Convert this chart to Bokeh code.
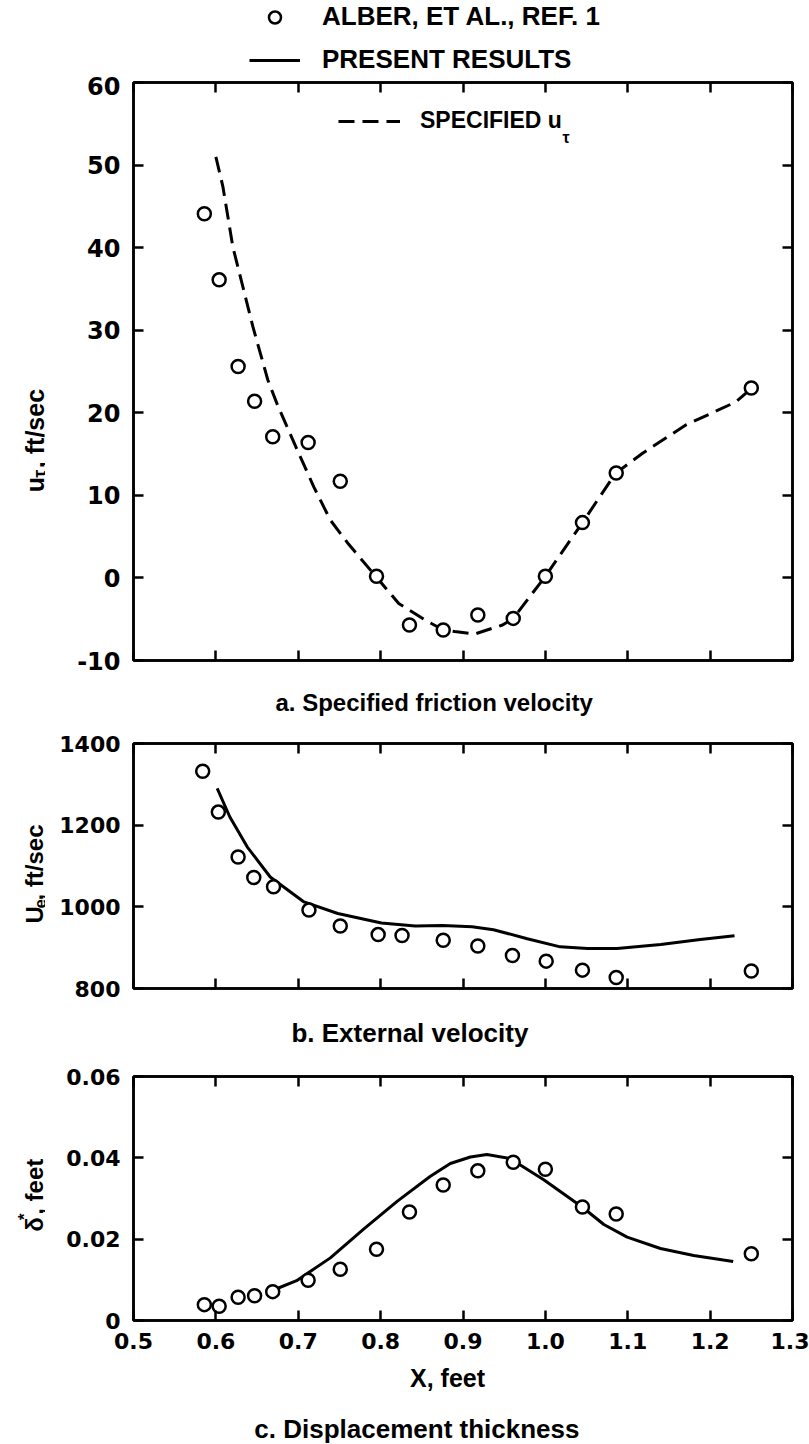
import math
import numpy as np
from bokeh.plotting import figure
from bokeh.models import Range1d, LinearAxis, FixedTicker, Label, Legend, LegendItem
from bokeh.layouts import column, row
from bokeh.embed import file_html
from bokeh.resources import INLINE

# ---------------- data ----------------
x_ticks = [0.5, 0.6, 0.7, 0.8, 0.9, 1.0, 1.1, 1.2, 1.3]
x_tick_labels = ["0.5", "0.6", "0.7", "0.8", "0.9", "1.0", "1.1", "1.2", "1.3"]
utau_ticks = [-10, 0, 10, 20, 30, 40, 50, 60]
utau_tick_labels = ["-10", "0", "10", "20", "30", "40", "50", "60"]
ue_ticks = [800, 1000, 1200, 1400]
ue_tick_labels = ["800", "1000", "1200", "1400"]
delta_ticks = [0, 0.02, 0.04, 0.06]
delta_tick_labels = ["0", "0.02", "0.04", "0.06"]

# Alber et al. (circles)
x_alber = [0.586, 0.604, 0.627, 0.647, 0.669, 0.712, 0.751, 0.795, 0.835, 0.876,
           0.918, 0.961, 1.000, 1.045, 1.086, 1.250]
x_alber_ue = [0.584, 0.603, 0.627, 0.646, 0.670, 0.713, 0.751, 0.797, 0.826, 0.876,
              0.918, 0.960, 1.001, 1.045, 1.086, 1.250]
utau_alber = [44.1, 36.1, 25.6, 21.4, 17.1, 16.4, 11.7, 0.2, -5.7, -6.3,
              -4.5, -4.9, 0.2, 6.7, 12.7, 23.0]
ue_alber = [1332, 1232, 1122, 1072, 1049, 992, 953, 932, 930, 918,
            904, 881, 867, 845, 827, 843]
delta_alber = [0.0039, 0.0035, 0.0057, 0.0061, 0.0071, 0.0099, 0.0126, 0.0175, 0.0267, 0.0333,
               0.0368, 0.0389, 0.0372, 0.0279, 0.0262, 0.0164]

# specified u_tau (dashed)
x_spec = [0.600, 0.6085, 0.6206, 0.645, 0.663, 0.675, 0.697, 0.719, 0.739, 0.761, 0.794,
          0.822, 0.854, 0.876, 0.890, 0.914, 0.948, 0.961, 1.000, 1.045, 1.085, 1.118,
          1.170, 1.231, 1.245]
utau_spec = [51.0, 47.4, 40.1, 30.4, 24.0, 20.9, 15.9, 11.0, 7.0, 4.1, 0.2,
             -3.1, -5.1, -6.3, -6.5, -6.8, -5.7, -4.9, 0.2, 6.7, 12.65, 15.1,
             18.5, 21.3, 22.5]

# present results (solid)
x_ue_present = [0.6016, 0.617, 0.638, 0.666, 0.707, 0.748, 0.801, 0.842, 0.875, 0.911,
                0.937, 0.978, 1.018, 1.051, 1.087, 1.140, 1.188, 1.2296]
ue_present = [1290, 1220, 1147, 1073, 1012, 983.6, 960.6, 953, 954, 951,
              944, 922, 902, 898, 898, 908, 920, 929]
x_delta_present = [0.670, 0.698, 0.739, 0.779, 0.820, 0.860, 0.8846, 0.909, 0.929, 0.9575,
                   0.998, 1.0446, 1.071, 1.0993, 1.1397, 1.180, 1.228]
delta_present = [0.0075, 0.0098, 0.0154, 0.0224, 0.0293, 0.0354, 0.0386, 0.0402, 0.0408, 0.0398,
                 0.0346, 0.0279, 0.0236, 0.0205, 0.0177, 0.0160, 0.0145]

# ---------------- style ----------------
SANS = "Liberation Sans"
TICKF = "DejaVu Sans"
W = 809
YLW = 45            # width of the strip holding the rotated y labels
PW = W - YLW        # width of each panel figure
BL, BR = 88, 17     # panel borders (frame spans x = 133 .. 792 on the page)

CHW = {'u': .611, 'U': .722, 'e': .556, ',': .278, ' ': .278, 'f': .333, 't': .333,
       '/': .278, 's': .556, 'c': .556, 'τ': .55, 'δ': .611, '*': .389}


def twidth(s, size):
    return sum(CHW.get(ch, .556) for ch in s) * size


def text_fig(w, h):
    p = figure(width=w, height=h, x_range=Range1d(0, w), y_range=Range1d(0, h),
               x_axis_location=None, y_axis_location=None, toolbar_location=None,
               output_backend="svg", min_border=0)
    p.xgrid.visible = False
    p.ygrid.visible = False
    p.outline_line_color = None
    p.background_fill_color = "white"
    p.border_fill_color = "white"
    return p


def make_fig(height, top, bottom, yr):
    p = figure(width=PW, height=height, x_range=Range1d(0.5, 1.3), y_range=Range1d(*yr),
               x_axis_location=None, y_axis_location=None, toolbar_location=None,
               output_backend="svg", min_border_left=BL, min_border_right=BR,
               min_border_top=top, min_border_bottom=bottom)
    p.xgrid.visible = False
    p.ygrid.visible = False
    p.outline_line_color = "black"
    p.outline_line_width = 2.5
    p.background_fill_color = "white"
    p.border_fill_color = "white"
    return p


def style_axis(ax):
    ax.axis_line_width = 2.5
    ax.axis_line_color = "black"
    ax.major_tick_in = 10
    ax.major_tick_out = 0
    ax.major_tick_line_width = 2.5
    ax.major_tick_line_color = "black"
    ax.minor_tick_line_color = None
    ax.major_label_text_font = TICKF
    ax.major_label_text_font_style = "bold"
    ax.major_label_text_color = "black"


def blank_axis(ticks):
    ax = LinearAxis(ticker=FixedTicker(ticks=ticks), major_label_overrides={t: "" for t in ticks})
    style_axis(ax)
    ax.major_label_text_font_size = "0px"
    ax.major_label_standoff = 0
    return ax


def add_axes(p, yt, yl, ysize, show_x):
    left = LinearAxis(ticker=FixedTicker(ticks=yt), major_label_overrides=dict(zip(yt, yl)))
    style_axis(left)
    left.major_label_text_font_size = ysize
    left.major_label_standoff = 13
    p.add_layout(left, "left")
    p.add_layout(blank_axis(yt), "right")
    p.add_layout(blank_axis(x_ticks), "above")
    if show_x:
        bot = LinearAxis(ticker=FixedTicker(ticks=x_ticks),
                         major_label_overrides=dict(zip(x_ticks, x_tick_labels)))
        style_axis(bot)
        bot.major_label_text_font_size = "22px"
        bot.major_label_standoff = 12
        p.add_layout(bot, "below")
    else:
        p.add_layout(blank_axis(x_ticks), "below")


def caption(tf, text, cx, cy_top, h, size="25px"):
    tf.add_layout(Label(x=cx, y=h - cy_top, text=text, text_align="center",
                        text_baseline="middle", text_font=SANS, text_font_size=size,
                        text_font_style="bold", text_color="black"))


def ylabel_fig(h, pieces, center_top, base_x=34):
    tf = text_fig(YLW, h)
    total = sum(twidth(t, s) for t, s, d in pieces)
    y = (h - center_top) - total / 2.0
    for t, s, d in pieces:
        tf.add_layout(Label(x=base_x + d, y=y, text=t, angle=math.pi / 2, angle_units="rad",
                            text_align="left", text_baseline="alphabetic", text_font=SANS,
                            text_font_size="%dpx" % s, text_font_style="bold",
                            text_color="black"))
        y += twidth(t, s)
    return tf


def circles(p, x, y):
    return p.scatter(x, y, marker="circle", size=13, fill_color="white", line_color="black",
                     line_width=2.5)


# ---------------- top legend strip (page y 0..76) ----------------
HL = 76
figL = text_fig(W, HL)
nan_key = np.array([np.nan])        # legend keys only: nothing is drawn in the strip
key_c = circles(figL, nan_key, nan_key)
key_l = figL.line(nan_key, nan_key, line_color="black", line_width=3)
top_legend = Legend(items=[LegendItem(label="ALBER, ET AL., REF. 1", renderers=[key_c]),
                           LegendItem(label="PRESENT RESULTS", renderers=[key_l])],
                    location=(249, 1), orientation="vertical", glyph_width=51, glyph_height=30,
                    label_height=30, label_standoff=22, spacing=12, padding=0, margin=0,
                    border_line_color=None, background_fill_alpha=0,
                    label_text_font=SANS, label_text_font_size="26px",
                    label_text_font_style="bold", label_text_color="black")
figL.add_layout(top_legend)

# ---------------- panel a (page y 76..680) ----------------
HA = 604
pa = make_fig(HA, 6, 20, (-10, 60))
add_axes(pa, utau_ticks, utau_tick_labels, "24px", False)
r_spec = pa.line(x_spec, utau_spec, line_color="black", line_width=3, line_dash="16 8")
circles(pa, x_alber, utau_alber)
spec_legend = Legend(items=[LegendItem(label="SPECIFIED u", renderers=[r_spec])],
                     location=(205, 526), orientation="vertical", glyph_width=62, glyph_height=20,
                     label_height=20, label_standoff=20, spacing=0, padding=0, margin=0,
                     border_line_color=None, background_fill_alpha=0,
                     label_text_font=SANS, label_text_font_size="23px",
                     label_text_font_style="bold", label_text_color="black")
pa.add_layout(spec_legend)
pa.add_layout(Label(x=429, y=523, x_units="screen", y_units="screen", text="τ",
                    text_font=SANS, text_font_size="16px", text_font_style="bold",
                    text_baseline="alphabetic", text_color="black"))
yla = ylabel_fig(HA, [("u", 25, 0), ("τ", 18, 5), (", ft/sec", 25, 0)], 452 - 76)

# ---------------- caption a (page y 680..723) ----------------
HCA = 43
figCA = text_fig(W, HCA)
caption(figCA, "a.  Specified friction velocity", 437, 702 - 680, HCA, "24px")

# ---------------- panel b (page y 723..1008) ----------------
HB = 285
pb = make_fig(HB, 20, 20, (800, 1400))
add_axes(pb, ue_ticks, ue_tick_labels, "22px", False)
pb.line(x_ue_present, ue_present, line_color="black", line_width=3)
circles(pb, x_alber_ue, ue_alber)
ylb = ylabel_fig(HB, [("U", 24, 0), ("e", 17, 5), (", ft/sec", 24, 0)], 881 - 723)

# ---------------- caption b (page y 1008..1056) ----------------
HCB = 48
figCB = text_fig(W, HCB)
caption(figCB, "b.  External velocity", 413, 1032 - 1008, HCB, "26px")

# ---------------- panel c (page y 1056..1362) ----------------
HC = 306
pc = make_fig(HC, 20, 42, (0, 0.06))
add_axes(pc, delta_ticks, delta_tick_labels, "22px", True)
pc.line(x_delta_present, delta_present, line_color="black", line_width=3)
circles(pc, x_alber, delta_alber)
ylc = ylabel_fig(HC, [("δ", 24, 0), ("*", 17, -10), (", feet", 24, 0)], 1212 - 1056)

# ---------------- x label + caption c (page y 1362..1444) ----------------
HCC = 82
figCC = text_fig(W, HCC)
caption(figCC, "X, feet", 447, 1377 - 1362, HCC)
caption(figCC, "c.  Displacement thickness", 420, 1428 - 1362, HCC, "26px")

layout = column(figL, row(yla, pa, spacing=0), figCA, row(ylb, pb, spacing=0), figCB,
                row(ylc, pc, spacing=0), figCC, spacing=0)
open("out.html", "w").write(file_html(layout, INLINE))
